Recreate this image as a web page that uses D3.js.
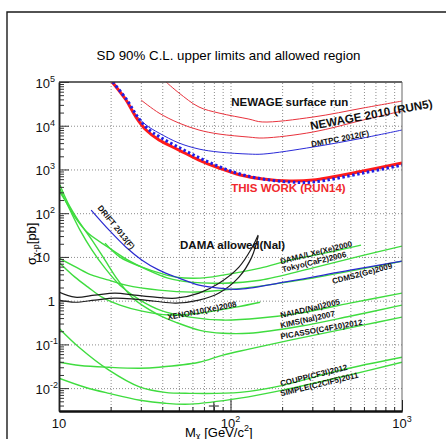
<!DOCTYPE html>
<html>
<head>
<meta charset="utf-8">
<script src="https://cdn.jsdelivr.net/npm/d3@7"></script>
<style>
  html, body { margin: 0; padding: 0; background: #fff; }
  svg { display: block; font-family: "Liberation Sans", Arial, Helvetica, sans-serif; }
  .grid line { stroke: #8c8c8c; stroke-dasharray: 1,2; }
  .grid path { display: none; }
</style>
</head>
<body>
<svg id="chart" width="446" height="439"></svg>
<script>
// axes: WIMP mass M [GeV/c^2] and SD cross section sigma [pb]
const massDomain = [10, 1000];
const sigmaDomain = [3e-3, 1e5];
const xTicksMajor = [10, 100, 1000];
const yTicksMajor = [1e-2, 1e-1, 1, 10, 1e2, 1e3, 1e4, 1e5];

// [M, sigma] points
const newageSurface = [[42.1, 1e5], [50.1, 5.6e4], [65.5, 2.68e4], [85.7, 1.95e4], [128, 1.42e4], [153, 1.22e4], [303, 1.58e4], [593, 2.54e4], [1000, 3.67e4]];
const newage2010 = [[30.1, 3.87e4], [38.3, 1.95e4], [50.1, 1.15e4], [65.5, 7.98e3], [85.7, 6.46e3], [128, 5.5e3], [155, 5.24e3], [303, 7.18e3], [593, 1.35e4], [1000, 2.17e4]];
const dmtpc2012 = [[20.4, 1e5], [24.6, 3.87e4], [28.1, 1.76e4], [32.2, 1.04e4], [38.3, 6.8e3], [50.1, 4.02e3], [65.5, 2.93e3], [85.7, 2.5e3], [128, 2.25e3], [155, 2.25e3], [303, 3.26e3], [593, 5.24e3], [1000, 7.98e3]];
const thisWork = [[20.4, 1e5], [24.6, 3.87e4], [28.1, 1.58e4], [32.2, 7.98e3], [38.3, 4.71e3], [50.1, 2.78e3], [65.5, 1.64e3], [85.7, 1.08e3], [114, 745], [155, 603], [222, 543], [303, 572], [593, 918], [1000, 1.4e3]];
const run14Blue = [[20.6, 1e5], [24.9, 3.87e4], [28.5, 1.67e4], [32.6, 8.85e3], [38.8, 5.5e3], [50.8, 3.09e3], [66.4, 1.82e3], [86.9, 1.14e3], [114, 785], [155, 603], [222, 515], [303, 515], [593, 828], [1000, 1.26e3]];
const drift2013 = [[15.4, 118], [19.6, 41], [24.6, 16.7], [30.5, 8.45], [38.3, 4.99], [50.1, 3.27], [65.5, 2.26], [85.7, 1.93], [114, 1.83], [222, 2.79], [498, 4.99], [1000, 8.0]];

const damaLXe = [[18.55, 20.7], [22.67, 9.9], [30.5, 5.85], [38.8, 4.26], [48.1, 3.45], [66.4, 3.27], [90.3, 3.83], [149, 5.55], [222, 8.45], [380, 12.9], [577, 18.6]];
const tokyoCaF2 = [[10.13, 304], [11.28, 153], [12.39, 81.4], [14.76, 35.1], [19.3, 16.8], [25.26, 8.45], [33.0, 4.99], [43.2, 3.27], [58, 2.65], [90.3, 2.51], [149, 2.94], [299, 5.55], [569, 10.4], [1000, 17.7]];
const cdms2Ge = [[10, 9.4], [12.56, 5.85], [15.58, 3.83], [19.56, 2.94], [24.59, 2.26], [38.3, 1.74], [59.6, 1.57], [90.3, 1.74], [149, 2.15], [254, 2.94], [497, 4.73], [1000, 8.0]];
const xenon10 = [[10.13, 7.2], [12.39, 3.45], [14.76, 2.04], [17.81, 1.2], [22.67, 0.79], [30.5, 0.575], [43.8, 0.47], [66.4, 0.52], [107.6, 0.71], [149, 0.92]];
const naiad = [[10.13, 356], [11.59, 118], [13.26, 41], [15.58, 14.3], [18.55, 5.55], [22.67, 2.26], [29.7, 1.03], [38.8, 0.61], [58, 0.42], [90.3, 0.36], [149, 0.4], [254, 0.52], [497, 0.88], [1000, 1.49]];
const kims = [[10.13, 440], [11.28, 170], [12.91, 69.5], [15.58, 24.2], [18.55, 8.45], [22.08, 2.94], [26.66, 1.2], [30.5, 0.79], [38.3, 0.47], [48.1, 0.32], [66.4, 0.21], [90.3, 0.18], [128, 0.18], [254, 0.26], [497, 0.44], [1000, 0.79]];
const picasso = [[10, 0.039], [13.26, 0.033], [19.56, 0.03], [29.7, 0.0285], [38.3, 0.03], [65.5, 0.039], [90.3, 0.057], [128, 0.078], [254, 0.139], [593, 0.275], [1000, 0.42]];
const coupp = [[10, 0.235], [13.08, 0.086], [19.56, 0.0257], [29.7, 0.0105], [41.5, 0.008], [58, 0.0076], [113.7, 0.008], [202, 0.0116], [435, 0.0257], [1000, 0.051]];
const simple = [[10, 0.0169], [14.18, 0.0105], [19.56, 0.0076], [29.7, 0.0053], [41.5, 0.0045], [58, 0.0043], [113.7, 0.0059], [202, 0.009], [435, 0.0177], [1000, 0.039]];

const damaUpper = [[10, 1.57], [12.4, 1.2], [16.2, 1.34], [21.2, 1.49], [27.7, 1.34], [36.3, 1.2], [48.1, 1.14], [65.5, 1.49], [85.7, 2.51], [112, 5.85], [133, 15.9], [145, 31.6]];
const damaLower = [[10, 1.03], [12.4, 0.92], [16.2, 1.03], [21.2, 1.14], [27.7, 1.08], [36.3, 0.97], [48.1, 0.88], [65.5, 1.03], [85.7, 1.49], [112, 3.45], [133, 9.9], [145, 29.9]];

const crossMarker = [[80, 0.0039]];

const labelText = ["NEWAGE surface run", "NEWAGE 2010 (RUN5)", "DMTPC 2012(F)", "THIS WORK (RUN14)", "DAMA allowed(NaI)", "DRIFT 2013(F)",
  "DAMA/LXe(Xe)2000", "Tokyo(CaF2)2006", "CDMS2(Ge)2009", "XENON10(Xe)2008", "NAIAD(NaI)2005", "KIMS(NaI)2007",
  "PICASSO(C4F10)2012", "COUPP(CF3I)2012", "SIMPLE(C2ClF5)2011"];
const labelAt = [[101, 2.83e4], [295, 8.0e3], [298, 3.26e3], [101, 304], [50.8, 15.5], [16.7, 131],
  [197, 6.84], [202, 4.49], [396, 2.39], [43.2, 0.36], [197, 0.40], [197, 0.235],
  [197, 0.1315], [197, 0.011], [197, 0.00653]];

// label styles, same order as labelText
const labelAngle = [0, -10.5, -11, 0, 0, 51, -14, -13.5, -15, -11, -13, -12.5, -10, -14, -13.5];
const labelSize = [11.5, 11.7, 8, 11.5, 11.5, 8, 8, 8, 8, 8, 8, 8, 8, 8, 8];

const svg = d3.select("#chart");
const plot = { left: 59, top: 82, right: 402, bottom: 411 };

const x = d3.scaleLog().domain(massDomain).range([plot.left, plot.right]);
const y = d3.scaleLog().domain(sigmaDomain).range([plot.bottom, plot.top]);

const isDecade = v => Math.abs(Math.log10(v) - Math.round(Math.log10(v))) < 1e-6;

// canvas frame, only the top and left sides fall inside the crop
svg.append("path")
  .attr("d", "M7,439V12H446")
  .attr("fill", "none")
  .attr("stroke", "#1a1a1a")
  .attr("stroke-width", 1.4);

svg.append("text")
  .attr("x", 228.5)
  .attr("y", 60)
  .attr("text-anchor", "middle")
  .attr("font-size", 13.3)
  .text("SD 90% C.L. upper limits and allowed region");

svg.append("clipPath").attr("id", "clip")
  .append("rect")
  .attr("x", plot.left).attr("y", plot.top)
  .attr("width", plot.right - plot.left).attr("height", plot.bottom - plot.top);

// dotted grid
const grid = svg.append("g").attr("class", "grid");
grid.append("g")
  .attr("transform", `translate(0,${plot.bottom})`)
  .call(d3.axisBottom(x)
    .tickValues(x.ticks().filter(v => v > massDomain[0] && v < massDomain[1]))
    .tickSize(-(plot.bottom - plot.top)).tickFormat(""));
grid.append("g")
  .attr("transform", `translate(${plot.left},0)`)
  .call(d3.axisLeft(y)
    .tickValues(yTicksMajor.filter(v => v < sigmaDomain[1]))
    .tickSize(-(plot.right - plot.left)).tickFormat(""));

// curves
const line = d3.line()
  .x(d => x(d[0]))
  .y(d => y(d[1]))
  .curve(d3.curveCatmullRom.alpha(0.5));

const curves = svg.append("g").attr("clip-path", "url(#clip)").attr("fill", "none");

function drawCurve(data, color, width, dash) {
  const p = curves.append("path")
    .attr("d", line(data))
    .attr("stroke", color)
    .attr("stroke-width", width);
  if (dash) p.attr("stroke-dasharray", dash);
}

[damaLXe, tokyoCaF2, cdms2Ge, xenon10, naiad, kims, picasso, coupp, simple]
  .forEach(d => drawCurve(d, "#3fdc3f", 1.4));

drawCurve(damaUpper, "#1c1c1c", 1.2);
drawCurve(damaLower, "#1c1c1c", 1.2);
drawCurve(drift2013, "#2a2ad0", 1.2);
drawCurve(dmtpc2012, "#2a2ad8", 1);
drawCurve(newageSurface, "#e8323c", 1);
drawCurve(newage2010, "#e8323c", 1);
drawCurve(thisWork, "#ff1a1a", 3);
drawCurve(run14Blue, "#1f1fe6", 3, "2.5,2.5");

curves.selectAll(".cross")
  .data(crossMarker)
  .join("path")
  .attr("class", "cross")
  .attr("transform", d => `translate(${x(d[0])},${y(d[1])})`)
  .attr("d", "M-5,0H5M0,-4V5")
  .attr("stroke", "#222")
  .attr("stroke-width", 1);

// frame: top and right sides
svg.append("line")
  .attr("x1", plot.left).attr("x2", plot.right)
  .attr("y1", plot.top).attr("y2", plot.top)
  .attr("stroke", "#333").attr("stroke-width", 1.3);
svg.append("line")
  .attr("x1", plot.right).attr("x2", plot.right)
  .attr("y1", plot.top).attr("y2", plot.bottom)
  .attr("stroke", "#666").attr("stroke-width", 1);

// axes with inward ticks
const yMinor = y.ticks().filter(v => !isDecade(v));
const xMinor = x.ticks().filter(v => !isDecade(v));

const axY = svg.append("g").attr("transform", `translate(${plot.left},0)`);
axY.append("g").call(d3.axisRight(y).tickValues(yMinor).tickSize(5).tickSizeOuter(0).tickFormat(""));
axY.append("g").call(d3.axisRight(y).tickValues(yTicksMajor).tickSize(10).tickSizeOuter(0).tickFormat(""));
axY.selectAll("line").attr("stroke", "#333");
axY.selectAll("path").attr("stroke", "#222").attr("stroke-width", 1.5);

const axX = svg.append("g").attr("transform", `translate(0,${plot.bottom})`);
axX.append("g").call(d3.axisTop(x).tickValues(xMinor).tickSize(4).tickSizeOuter(0).tickFormat(""));
axX.append("g").call(d3.axisTop(x).tickValues(xTicksMajor).tickSize(11).tickSizeOuter(0).tickFormat(""));
axX.selectAll("line").attr("stroke", "#222");
axX.selectAll("path").attr("stroke", "#111").attr("stroke-width", 2);

// tick labels
const yLab = svg.append("g").attr("font-size", 13).attr("fill", "#111");
yTicksMajor.forEach(v => {
  const e = Math.round(Math.log10(v));
  const t = yLab.append("text").attr("y", y(v) + (e === 0 || e === 1 ? 5 : 6));
  if (e === 0) {
    t.attr("x", 55).attr("text-anchor", "end").text("1");
  } else {
    t.attr("x", 35.5);
    t.append("tspan").text("10");
    if (e !== 1) t.append("tspan").attr("dy", -6).attr("font-size", 9).text(e);
  }
});

const xLab = svg.append("g").attr("font-size", 13).attr("fill", "#111");
xTicksMajor.forEach(v => {
  const e = Math.round(Math.log10(v));
  const t = xLab.append("text")
    .attr("x", x(v))
    .attr("y", 428)
    .attr("text-anchor", "middle");
  t.append("tspan").text("10");
  if (e > 1) t.append("tspan").attr("dy", -6).attr("font-size", 9).text(e);
});

// axis titles
const xTitle = svg.append("text").attr("x", 185).attr("y", 437).attr("font-size", 13);
xTitle.append("tspan").text("M");
xTitle.append("tspan").attr("dy", 2).attr("font-size", 9).text("χ");
xTitle.append("tspan").attr("dy", -2).text(" [GeV/c");
xTitle.append("tspan").attr("dy", -6).attr("font-size", 9).text("2");
xTitle.append("tspan").attr("dy", 6).text("]");

const yTitle = svg.append("text")
  .attr("transform", "translate(36,265) rotate(-90)")
  .attr("font-size", 13);
yTitle.append("tspan").text("σ");
yTitle.append("tspan").attr("dy", 3).attr("font-size", 9).text("χ-p");
yTitle.append("tspan").attr("dy", -3).text("[pb]");

// curve labels
svg.append("g")
  .selectAll("text")
  .data(labelText)
  .join("text")
  .attr("transform", (d, i) => `translate(${x(labelAt[i][0])},${y(labelAt[i][1])}) rotate(${labelAngle[i]})`)
  .attr("font-size", (d, i) => labelSize[i])
  .attr("font-weight", "bold")
  .attr("fill", d => d.startsWith("THIS WORK") ? "#f0282d" : "#111")
  .text(d => d);
</script>
</body>
</html>
